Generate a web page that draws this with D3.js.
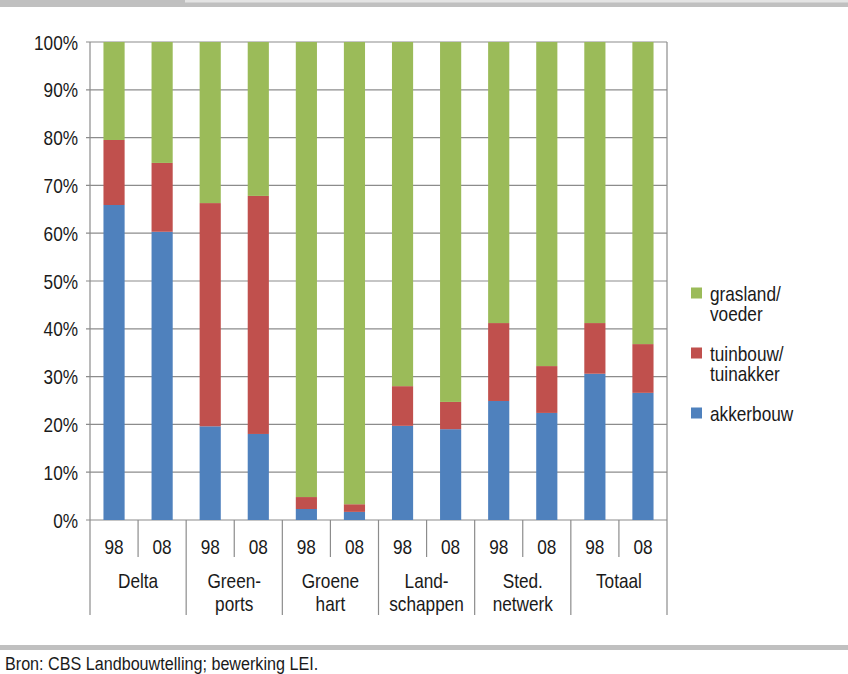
<!DOCTYPE html>
<html>
<head>
<meta charset="utf-8">
<script src="https://cdn.jsdelivr.net/npm/d3@7"></script>
<style>
	body { margin: 0; background: #fff; }
	svg text { font-family: "Liberation Sans", Arial, sans-serif; fill: #1a1a1a; }
</style>
</head>
<body>
<div class="chart"></div>
<script>
// waarden uit de grafiek (percentages)
let groups = ["Delta", "Green-|ports", "Groene|hart", "Land-|schappen", "Sted.|netwerk", "Totaal"];
let years = ["98", "08"];
let akkerbouw = [65.9, 60.3, 19.6, 18.0, 2.3, 1.7, 19.7, 19.0, 24.9, 22.4, 30.6, 26.6];
let tuinbouw = [13.6, 14.4, 46.7, 49.8, 2.5, 1.6, 8.3, 5.7, 16.3, 9.8, 10.6, 10.2];
let grasland = akkerbouw.map((d, i) => 100 - d - tuinbouw[i]);
let yTicks = [0, 10, 20, 30, 40, 50, 60, 70, 80, 90, 100];

let series = [
	{key: "akkerbouw", label: ["akkerbouw"], color: "#4f81bd", values: akkerbouw},
	{key: "tuinbouw", label: ["tuinbouw/", "tuinakker"], color: "#c0504d", values: tuinbouw},
	{key: "grasland", label: ["grasland/", "voeder"], color: "#9bbb59", values: grasland}
];

// smalle letter nabootsen: tekst horizontaal samendrukken
let place = (x, y, s = 0.82) => "translate(" + x + "," + y + ") scale(" + s + ",1)";

let createD3 = function () {
	let width = 848, height = 674;
	let left = 90, right = 667, top = 42, bottom = 520;

	let svg = d3.select(".chart")
		.append("svg")
		.attr("width", width)
		.attr("height", height);

	// kaders boven en onder
	svg.append("rect").attr("x", 0).attr("y", 0).attr("width", width).attr("height", 7).attr("fill", "#c0c0c0");
	svg.append("rect").attr("x", 185).attr("y", 0).attr("width", width - 185).attr("height", 2.5).attr("fill", "#e4e4e4");
	svg.append("rect").attr("x", 0).attr("y", 645).attr("width", width).attr("height", 5).attr("fill", "#c0c0c0");

	let bars = [];
	groups.forEach((g, gi) => years.forEach((yr, yi) => bars.push({group: g, year: yr, i: gi * 2 + yi})));

	let x = d3.scaleBand()
		.domain(bars.map(d => d.i))
		.range([left, right])
		.paddingInner(0.56)
		.paddingOuter(0.28);

	let y = d3.scaleLinear()
		.domain([0, 100])
		.range([bottom, top]);

	// rasterlijnen
	svg.append("g")
		.selectAll("line")
		.data(yTicks)
		.enter().append("line")
		.attr("x1", left - 4)
		.attr("x2", right)
		.attr("y1", d => y(d))
		.attr("y2", d => y(d))
		.attr("stroke", "#8c8c8c")
		.attr("stroke-width", 1.2);

	svg.append("g")
		.selectAll("text")
		.data(yTicks)
		.enter().append("text")
		.attr("transform", d => place(78, y(d)))
		.attr("dy", "0.36em")
		.attr("text-anchor", "end")
		.attr("font-size", 21)
		.text(d => d + "%");

	// gestapelde staven
	let stack = d3.stack()
		.keys(series.map(s => s.key))
		.value((d, key) => series.find(s => s.key === key).values[d.i]);

	let layers = stack(bars);

	svg.append("g")
		.selectAll("g")
		.data(layers)
		.enter().append("g")
		.attr("fill", (d, i) => series[i].color)
		.selectAll("rect")
		.data(d => d)
		.enter().append("rect")
		.attr("x", d => x(d.data.i))
		.attr("width", x.bandwidth())
		.attr("y", d => y(d[1]))
		.attr("height", d => y(d[0]) - y(d[1]));

	// assen
	let step = x.step();
	let axis = svg.append("g").attr("stroke", "#8c8c8c").attr("stroke-width", 1.2);
	axis.append("line").attr("x1", left).attr("x2", left).attr("y1", top).attr("y2", 615);
	axis.append("line").attr("x1", right).attr("x2", right).attr("y1", top).attr("y2", 615);

	axis.selectAll(".sep")
		.data(bars.slice(1))
		.enter().append("line")
		.attr("x1", d => left + d.i * step)
		.attr("x2", d => left + d.i * step)
		.attr("y1", bottom)
		.attr("y2", d => d.i % 2 === 0 ? 615 : 557);

	svg.append("g")
		.selectAll("text")
		.data(bars)
		.enter().append("text")
		.attr("transform", d => place(x(d.i) + x.bandwidth() / 2, 553.5))
		.attr("text-anchor", "middle")
		.attr("font-size", 21)
		.text(d => d.year);

	let groupLabels = svg.append("g")
		.selectAll("text")
		.data(groups)
		.enter().append("text")
		.attr("transform", (d, i) => place(left + (i * 2 + 1) * step, 588))
		.attr("text-anchor", "middle")
		.attr("font-size", 21);

	groupLabels.selectAll("tspan")
		.data(d => d.split("|"))
		.enter().append("tspan")
		.attr("x", 0)
		.attr("dy", (d, i) => i === 0 ? 0 : 23.5)
		.text(d => d);

	// legenda
	let legendY = [293, 353, 413];
	let legend = svg.append("g")
		.selectAll("g")
		.data(series.slice().reverse())
		.enter().append("g")
		.attr("transform", (d, i) => "translate(691," + legendY[i] + ")");

	legend.append("rect")
		.attr("x", 0)
		.attr("y", -5.5)
		.attr("width", 11)
		.attr("height", 11)
		.attr("fill", d => d.color);

	legend.append("text")
		.attr("transform", place(19, 7.5))
		.attr("font-size", 21)
		.selectAll("tspan")
		.data(d => d.label)
		.enter().append("tspan")
		.attr("x", 0)
		.attr("dy", (d, i) => i === 0 ? 0 : 21)
		.text(d => d);

	svg.append("text")
		.attr("transform", place(5, 670, 0.85))
		.attr("font-size", 19)
		.text("Bron: CBS Landbouwtelling; bewerking LEI.");
};

createD3();
</script>
</body>
</html>
